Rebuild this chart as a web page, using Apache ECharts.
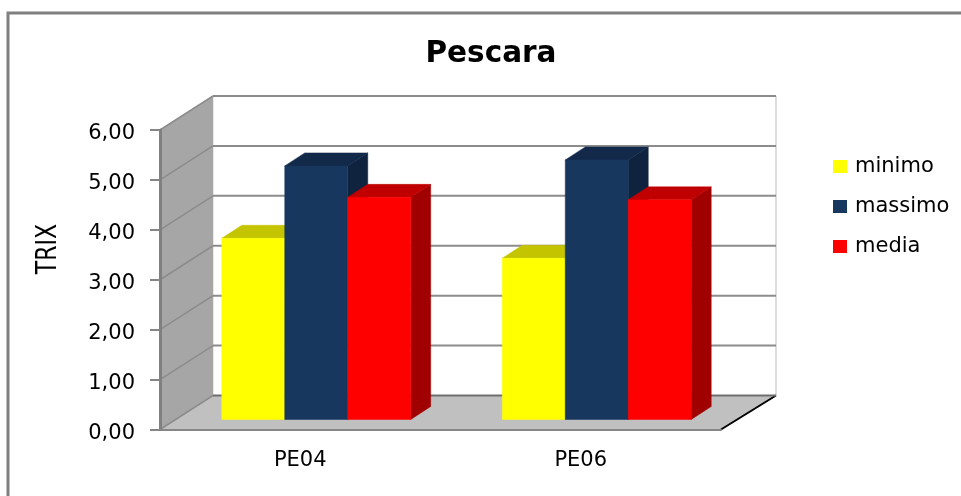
<!DOCTYPE html>
<html>
<head>
<meta charset="utf-8">
<title>Pescara</title>
<script src="https://cdn.jsdelivr.net/npm/echarts@6/dist/echarts.min.js"></script>
<style>
  html, body { margin: 0; padding: 0; background: #fff; }
  #main { width: 961px; height: 496px; }
</style>
</head>
<body>
<div id="main"></div>
<script>
var categories = ['PE04', 'PE06']
var yTicks = [0, 1, 2, 3, 4, 5, 6]
var minimo = [3.63, 3.23]
var massimo = [5.08, 5.2]
var media = [4.45, 4.4]

var fontName = '"DejaVu Sans", sans-serif'
var axisGrey = '#868686'
// oblique offsets of the fake 3d box, in px
var wallDx = 53
var wallRightDx = 55
var wallDy = -34
var barDx = 16
var barDy = -10
var depthDx = 20
var depthDy = -13

function poly (points, color) {
  return { type: 'polygon', shape: { points: points }, style: { fill: color, stroke: color, lineWidth: 0.5 } }
}

function line (x1, y1, x2, y2, color, width) {
  return { type: 'line', shape: { x1: x1, y1: y1, x2: x2, y2: y2 }, style: { stroke: color, lineWidth: width } }
}

function renderWalls (params, api) {
  var c = params.coordSys
  var l = c.x
  var r = c.x + c.width
  var t = c.y
  var b = c.y + c.height
  var items = [
    poly([[l, t], [l + wallDx, t + wallDy], [l + wallDx, b + wallDy], [l, b]], '#A6A6A6'),
    poly([[l, b], [l + wallDx, b + wallDy], [r + wallRightDx, b + wallDy], [r, b]], '#C0C0C0'),
    line(r + wallRightDx, t + wallDy, r + wallRightDx, b + wallDy, '#DDDDDD', 2),
    line(r, b, r + wallRightDx, b + wallDy, '#000000', 2)
  ]
  return { type: 'group', children: items }
}

function renderGrid (params, api) {
  var c = params.coordSys
  var y = api.coord([0, api.value(0)])[1]
  var color = api.value(0) === 0 ? '#6E6E6E' : '#8C8C8C'
  return {
    type: 'group',
    children: [
      line(c.x, y, c.x + wallDx, y + wallDy, '#8C8C8C', 1.5),
      line(c.x + wallDx, y + wallDy, c.x + c.width + wallRightDx, y + wallDy, color, 2)
    ]
  }
}

function barRenderer (slot, front, top, side) {
  return function (params, api) {
    var band = api.size([1, 0])[0]
    var w = band * 0.2245
    var cx = api.coord([api.value(0), 0])[0]
    var base = api.coord([api.value(0), 0])[1] + barDy
    var y = api.coord([api.value(0), api.value(1)])[1] + barDy
    var x0 = cx + barDx + (slot - 1.5) * w
    var x1 = x0 + w
    return {
      type: 'group',
      children: [
        poly([[x1, y], [x1 + depthDx, y + depthDy], [x1 + depthDx, base + depthDy], [x1, base]], side),
        poly([[x0, y], [x0 + depthDx, y + depthDy], [x1 + depthDx, y + depthDy], [x1, y]], top),
        poly([[x0, y], [x1, y], [x1, base], [x0, base]], front)
      ]
    }
  }
}

function pairs (values) {
  return values.map(function (v, i) { return [i, v] })
}

var chart = echarts.init(document.getElementById('main'))
chart.setOption({
  animation: false,
  backgroundColor: '#ffffff',
  title: {
    text: 'Pescara',
    left: 491,
    top: 39,
    padding: 0,
    textAlign: 'center',
    textStyle: { fontFamily: fontName, fontSize: 29.5, fontWeight: 'bold', color: '#000' }
  },
  legend: {
    left: 833,
    top: 156,
    padding: 0,
    orient: 'vertical',
    itemWidth: 14,
    itemHeight: 13,
    itemGap: 19,
    icon: 'rect',
    data: ['minimo', 'massimo', 'media'],
    textStyle: { fontFamily: fontName, fontSize: 21, color: '#000', padding: [0, 0, 0, 3] }
  },
  grid: { left: 160, right: 240, top: 130, bottom: 66.5 },
  xAxis: {
    type: 'category',
    data: categories,
    z: 5,
    axisLine: { lineStyle: { color: axisGrey, width: 2 } },
    axisTick: { length: 5, lineStyle: { color: axisGrey, width: 2 } },
    axisLabel: { margin: 21, fontFamily: fontName, fontSize: 21, color: '#000' }
  },
  yAxis: {
    type: 'value',
    min: 0,
    max: 6,
    interval: 1,
    z: 5,
    splitLine: { show: false },
    axisLine: { show: true, lineStyle: { color: '#808080', width: 3 } },
    axisTick: { show: true, length: 10, lineStyle: { color: axisGrey, width: 2 } },
    axisLabel: {
      margin: 25,
      fontFamily: fontName,
      fontSize: 21,
      color: '#000',
      formatter: function (v) { return '{v|' + v.toFixed(2).replace('.', ',') + '}' },
      rich: { v: { fontFamily: fontName, fontSize: 21, color: '#000', padding: [8, 0, 0, 0] } }
    }
  },
  graphic: [
    { type: 'rect', shape: { x: 8, y: 13, width: 1200, height: 800 }, style: { fill: 'none', stroke: '#808080', lineWidth: 3 }, silent: true },
    {
      type: 'text',
      x: 49,
      y: 249,
      rotation: Math.PI / 2,
      scaleY: 1.25,
      style: { text: 'TRIX', fontFamily: fontName, fontSize: 22, fill: '#000', align: 'center', verticalAlign: 'middle' },
      silent: true
    }
  ],
  series: [
    { type: 'custom', name: 'walls', z: 1, silent: true, data: [[0]], renderItem: renderWalls },
    { type: 'custom', name: 'grid', z: 1, silent: true, data: yTicks.map(function (t) { return [t] }), renderItem: renderGrid, encode: { y: 0 } },
    { type: 'custom', name: 'minimo', z: 2, itemStyle: { color: '#FFFF00' }, data: pairs(minimo), encode: { x: 0, y: 1 }, renderItem: barRenderer(0, '#FFFF00', '#C4C400', '#A6A600') },
    { type: 'custom', name: 'massimo', z: 2, itemStyle: { color: '#17375E' }, data: pairs(massimo), encode: { x: 0, y: 1 }, renderItem: barRenderer(1, '#17375E', '#12294A', '#0F233F') },
    { type: 'custom', name: 'media', z: 2, itemStyle: { color: '#FF0000' }, data: pairs(media), encode: { x: 0, y: 1 }, renderItem: barRenderer(2, '#FF0000', '#C00000', '#A00000') }
  ]
})
</script>
</body>
</html>
